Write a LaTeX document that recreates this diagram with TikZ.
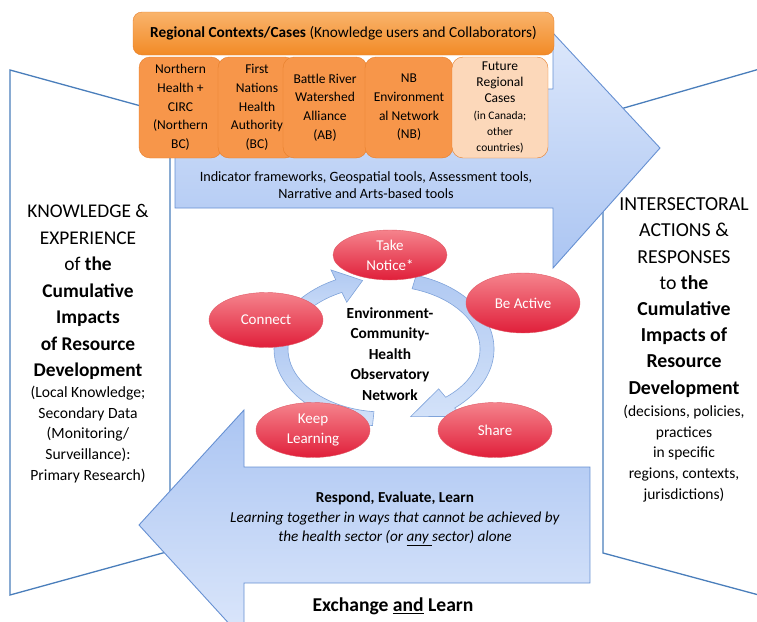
\documentclass[tikz,border=0pt]{standalone}
\usepackage{fontspec}
\setmainfont{Carlito}
\usepackage{tikz}
\usetikzlibrary{shapes.geometric,calc}

\definecolor{panelline}{HTML}{4A7EBB}
\definecolor{arrline}{HTML}{6690D2}
\definecolor{arrdark}{HTML}{ABC5F2}
\definecolor{arrlight}{HTML}{DCE7FB}
\definecolor{hdrtop}{HTML}{F9B46C}
\definecolor{hdrbot}{HTML}{F28A26}
\definecolor{caseorange}{HTML}{F7964A}
\definecolor{caseline}{HTML}{E67E2A}
\definecolor{futurefill}{HTML}{FCD8BA}
\definecolor{ringtop}{HTML}{B0C9F2}
\definecolor{ringbot}{HTML}{D3E2F9}
\definecolor{ringline}{HTML}{7FA3DA}
\definecolor{redtop}{HTML}{F5838C}
\definecolor{redbot}{HTML}{E01F3A}
\definecolor{redline}{HTML}{E05A66}

\newcommand{\fsz}[2]{\fontsize{#1}{#2}\selectfont}

\begin{document}
\begin{tikzpicture}[
  x=1pt, y=-1pt,
  panel/.style={draw=panelline, fill=white, line width=1.3pt},
  bigarr/.style={draw=arrline, line width=0.9pt},
  cbox/.style={draw=caseline, fill=caseorange, rounded corners=11pt, minimum height=101pt, inner sep=0pt, align=center, font=\fsz{13.5}{18.7}},
  act/.style={ellipse, draw=redline, top color=redtop, bottom color=redbot, minimum width=114pt, minimum height=55pt, inner sep=0pt, align=center, text=white, font=\fsz{15}{20}},
  ring/.style={draw=ringline, line width=0.6pt, top color=ringtop, bottom color=ringbot},
]
\useasboundingbox (0,0) rectangle (757,621);
\clip (0,0) rectangle (757,621);

% side panels
\draw[panel] (10,70) -- (170,114) -- (170,551) -- (10,595) -- cycle;
\draw[panel] (770,66) -- (603,114) -- (603,553) -- (770,598) -- cycle;

% top arrow (to the right)
\draw[bigarr, top color=arrlight, bottom color=arrdark] (175,89) -- (553,89) -- (553,33) -- (660,148)
  -- (553,268) -- (553,208) -- (175,208) -- cycle;
\node[align=center, font=\fsz{14.2}{17}] (tools) at (366,185.5)
  {Indicator frameworks, Geospatial tools, Assessment tools,\\Narrative and Arts-based tools};

% regional cases
\node[cbox, minimum width=83pt] (nh) at (180.5,107.5) {Northern\\Health +\\CIRC\\(Northern\\BC)};
\node[cbox, minimum width=78pt] (fn) at (257,107.5) {First\\Nations\\Health\\Authority\\(BC)};
\node[cbox, minimum width=84pt] (br) at (325,107.5) {Battle River\\Watershed\\Alliance\\(AB)};
\node[cbox, minimum width=88pt] (nb) at (409,107.5) {NB\\Environment\\al Network\\(NB)};
\node[cbox, minimum width=96pt, fill=futurefill, font=\fsz{13.5}{16.3}] (fut) at (500,107.5)
  {Future\\Regional\\Cases\\{\fsz{11.5}{16.3}(in Canada;}\\{\fsz{11.5}{16.3}other}\\{\fsz{11.5}{16.3}countries)}};
\node[draw=caseline, top color=hdrtop, bottom color=hdrbot, rounded corners=9pt, minimum width=421pt,
  minimum height=43pt, inner sep=0pt, font=\fsz{15.3}{18}] (hdr) at (343.5,33.5)
  {\textbf{Regional Contexts/Cases} (Knowledge users and Collaborators)};

% bottom arrow (to the left)
\draw[bigarr, top color=arrdark, bottom color=arrlight] (590,467) -- (244,467) -- (244,410) -- (139,525)
  -- (244,640) -- (244,583) -- (590,583) -- cycle;

% cycle of arrows
\coordinate (rc) at (384,349);
\path[ring] ($(rc)+(-160:110 and 77)$) arc[start angle=-160, end angle=-116, x radius=110, y radius=77]
  -- ($(rc)+(-116:121 and 88)$) -- ($(rc)+(-102:103 and 70)$) -- ($(rc)+(-116:85 and 52)$)
  -- ($(rc)+(-116:96 and 63)$) arc[start angle=-116, end angle=-160, x radius=96, y radius=63] -- cycle;
\path[ring] ($(rc)+(-73:110 and 77)$) arc[start angle=-73, end angle=50, x radius=110, y radius=77]
  -- ($(rc)+(50:121 and 88)$) -- ($(rc)+(75:103 and 70)$) -- ($(rc)+(50:85 and 52)$)
  -- ($(rc)+(50:96 and 63)$) arc[start angle=50, end angle=-73, x radius=96, y radius=63] -- cycle;
\path[ring] ($(rc)+(96:110 and 77)$) arc[start angle=96, end angle=188, x radius=110, y radius=77]
  -- ($(rc)+(188:96 and 63)$) arc[start angle=188, end angle=96, x radius=96, y radius=63] -- cycle;

\node[act, minimum height=50pt] (notice) at (390,255) {Take\\Notice*};
\node[act, minimum height=60pt] (active) at (523,303) {Be Active};
\node[act] (share) at (495,430) {Share};
\node[act] (keep) at (313,430) {Keep\\Learning};
\node[act] (connect) at (266,320) {Connect};
\node[align=center, font=\bfseries\fsz{15.4}{20.5}] (eco) at (390,354)
  {Environment-\\Community-\\Health\\Observatory\\Network};

% panel texts
\node[align=center, font=\fsz{19.4}{26.5}] (know) at (88,292)
  {KNOWLEDGE \&\\EXPERIENCE\\of \textbf{the}\\\textbf{Cumulative}\\\textbf{Impacts}\\\textbf{of Resource}\\\textbf{Development}};
\node[align=center, font=\fsz{15.6}{20.7}] (knowsrc) at (88,434.5)
  {(Local Knowledge;\\Secondary Data\\(Monitoring/\\Surveillance):\\Primary Research)};
\node[align=center, font=\fsz{19.8}{26.2}] (resp) at (684,297.5)
  {INTERSECTORAL\\ACTIONS \&\\RESPONSES\\to \textbf{the}\\\textbf{Cumulative}\\\textbf{Impacts of}\\\textbf{Resource}\\\textbf{Development}};
\node[align=center, font=\fsz{15.5}{20.7}] (respsrc) at (684,453.5)
  {(decisions, policies,\\practices\\in specific\\regions, contexts,\\jurisdictions)};

% bottom texts
\node[align=center, font=\fsz{15.2}{19.5}] (learn) at (395,519)
  {\textbf{Respond, Evaluate, Learn}\\\textit{Learning together in ways that cannot be achieved by}\\\textit{the health sector (or \underline{any\ }sector) alone}};
\node[font=\bfseries\fsz{19.6}{22}] (exch) at (393,606) {Exchange \underline{and} Learn};
\end{tikzpicture}
\end{document}
